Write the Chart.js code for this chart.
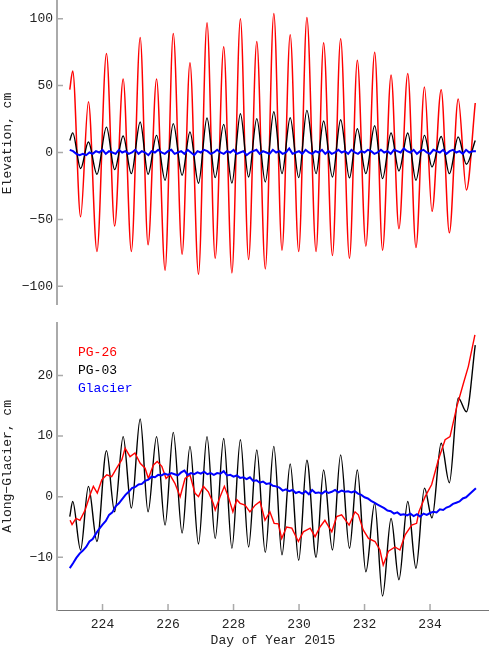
<!DOCTYPE html>
<html lang="en">
<head>
<meta charset="UTF-8">
<title>Elevation and Along-Glacier displacement, 2015</title>
<script src="https://cdn.jsdelivr.net/npm/chart.js"></script>
<style>
  body { margin: 0; background: #fff; }
  canvas { position: absolute; left: 0; }
  #elevChart { top: 0; }
  #alongChart { top: 310px; }
</style>
</head>
<body>
<canvas id="elevChart" width="489" height="305"></canvas>
<canvas id="alongChart" width="489" height="338"></canvas>
<script>
// days of the tidal highs/lows (shared by the oscillating records)
const tideDays = [223.00, 223.09, 223.33, 223.57, 223.83, 224.12, 224.37, 224.63, 224.88, 225.15,
                  225.39, 225.65, 225.91, 226.16, 226.43, 226.67, 226.93, 227.19, 227.44, 227.70,
                  227.95, 228.21, 228.46, 228.71, 228.97, 229.23, 229.48, 229.73, 229.99, 230.24,
                  230.52, 230.75, 231.02, 231.27, 231.54, 231.78, 232.04, 232.31, 232.55, 232.81,
                  233.05, 233.32, 233.57, 233.83, 234.06, 234.34, 234.59, 234.86, 235.11, 235.38];

// elevation, cm
const elevPG26 = [47, 61, -48, 38, -74, 74, -55, 55, -74, 86,
                  -69, 55, -88, 89, -76, 67, -91, 97, -79, 79,
                  -90, 100, -80, 83, -87, 104, -73, 88, -74, 101,
                  -74, 82, -77, 85, -79, 69, -70, 75, -73, 58,
                  -57, 59, -71, 49, -44, 47, -60, 40, -28, 37];
const elevPG03 = [9, 14.7, -12, 7.8, -16.3, 19, -12.8, 12.3, -15.8, 22.8,
                  -16.3, 12.8, -20.7, 21.6, -17, 15.3, -23, 25.8, -18.8, 21,
                  -22.8, 29, -18.3, 25.3, -22, 30.5, -15.8, 26, -18.8, 31.5,
                  -15.8, 23.5, -18.3, 24.5, -19, 17.8, -15.8, 20, -19.5, 14.6,
                  -13.8, 14.6, -20.7, 12.8, -10.8, 12, -15.8, 11.6, -8.8, 9];

// along-glacier, cm
const alongPG03 = [-3.3, -0.8, -8.8, 1.7, -7.4, 7.6, -2.5, 9.9, -1.9, 12.8,
                   -2.5, 9.9, -4.7, 10.6, -6, 8.3, -7.8, 9.9, -6.9, 9.6,
                   -8.5, 9.4, -8.3, 7.7, -9.2, 8.3, -9.6, 5.4, -10.5, 6,
                   -10, 4.4, -8.8, 6.9, -8.5, 4.4, -12.4, -1.1, -16.4, -3.6,
                   -13.7, -0.8, -11.8, 1.4, -3.5, 8.8, 2.3, 16.3, 14, 25];

const alongPG26Days = [223.01, 223.07, 223.19, 223.31, 223.47, 223.62, 223.72, 223.84, 223.98, 224.13,
                       224.28, 224.43, 224.59, 224.69, 224.84, 224.99, 225.15, 225.30, 225.40, 225.55,
                       225.67, 225.81, 225.94, 226.06, 226.21, 226.37, 226.52, 226.67, 226.82, 226.93,
                       227.08, 227.23, 227.38, 227.44, 227.59, 227.72, 227.84, 227.98, 228.10, 228.20,
                       228.35, 228.50, 228.66, 228.81, 228.96, 229.11, 229.24, 229.37, 229.47, 229.62,
                       229.78, 229.98, 230.13, 230.34, 230.49, 230.64, 230.79, 231.00, 231.15, 231.30,
                       231.53, 231.71, 231.81, 231.96, 232.12, 232.32, 232.47, 232.57, 232.73, 232.93,
                       233.08, 233.24, 233.44, 233.59, 233.66, 233.85, 234.05, 234.25, 234.46, 234.61,
                       234.82, 235.02, 235.17, 235.37];
const alongPG26 = [-3.9, -4.6, -3.6, -3.9, -2.2, 0.3, 1.7, 0.6, 2.8, 3.6,
                   3.3, 4.7, 6.1, 8.0, 6.6, 7.2, 5.5, 4.7, 3.0, 5.2,
                   5.8, 5.0, 3.0, 3.6, 2.2, 0, 3.0, 3.6, 0.6, 0,
                   1.7, 0.8, -1.1, -2.2, 0, 1.7, 0, -2.5, -0.5, -1.1,
                   -1.4, -2.5, -1.4, -0.8, -3.9, -2.5, -4.4, -4.5, -6.9, -5.0,
                   -5.2, -7.4, -5.8, -5.2, -6.6, -5.0, -3.9, -5.8, -3.3, -3.0,
                   -4.7, -2.5, -3.0, -5.5, -6.9, -7.4, -8.8, -11.3, -9.0, -8.3,
                   -8.8, -6.3, -4.7, -4.4, -2.5, 0, 2.0, 6.0, 9.4, 9.9,
                   14.9, 18.7, 21.5, 26.7];

// glacier GPS, sampled every 0.1 day from day 223.0
const glacierStart = 223.0;
const glacierStep = 0.1;
const elevGlacier = [2, 1, -1, -2, -1, -2, 0, -1, 1, 0,
                     2, -1, 1, 0, -1, 2, 0, 1, -1, 0,
                     2, -1, 1, 0, -2, 1, 0, 2, 0, -1,
                     1, 2, -1, 0, 1, -1, 2, 0, -2, 1,
                     0, 2, 1, -1, 0, 2, 0, -1, 1, 0,
                     2, -1, 0, 1, -2, 0, 1, 2, -1, 1,
                     0, -1, 2, 0, 1, -1, 0, 3, -1, 0,
                     1, -1, 2, 0, -1, 1, 0, 2, -1, 1,
                     -1, 0, 2, 0, 1, -1, 2, 0, -1, 1,
                     0, 2, 1, -1, 0, 2, 0, 1, -1, 2,
                     1, 0, 3, 1, 0, 2, -1, 1, 2, 0,
                     -1, 2, 1, 0, 2, -1, 1, 2, 0, 1,
                     -1, 2, 0, 1, 1];
const alongGlacier = [-11.8, -11.0, -10.1, -9.4, -8.9, -8.3, -7.4, -7.0, -6.1, -5.3,
                      -4.6, -4.0, -3.0, -2.6, -1.6, -1.1, -0.4, 0.3, 0.8, 1.4,
                      1.6, 2.0, 2.1, 2.6, 2.8, 3.3, 3.2, 3.6, 3.5, 3.8,
                      3.6, 3.9, 3.7, 3.5, 4.0, 4.3, 3.6, 3.9, 3.7, 4.0,
                      3.8, 4.1, 3.7, 3.9, 3.6, 3.9, 3.8, 4.2, 3.5, 3.6,
                      3.3, 3.5, 3.1, 3.2, 2.9, 3.2, 2.6, 2.7, 2.3, 2.5,
                      2.1, 2.2, 1.8, 1.7, 1.5, 1.0, 1.2, 0.9, 1.1, 0.6,
                      0.8, 0.5, 0.9, 0.4, 1.1, 0.6, 0.7, 0.5, 0.9, 0.6,
                      0.8, 1.1, 0.7, 1.0, 0.8, 0.9, 0.7, 0.9, 0.5, 0.3,
                      -0.1, -0.3, -0.7, -1.0, -1.3, -1.6, -1.9, -2.3, -2.4, -2.8,
                      -2.6, -3.0, -2.9, -3.1, -2.8, -3.2, -2.9, -3.3, -2.8, -3.0,
                      -2.7, -2.5, -2.6, -2.1, -2.2, -1.8, -1.6, -1.2, -1.0, -0.8,
                      -0.3, -0.1, 0.4, 0.9, 1.4];

const elevTicks = [-100, -50, 0, 50, 100];
const alongTicks = [-10, 0, 10, 20];
const dayTicks = [224, 226, 228, 230, 232, 234];

Chart.defaults.font.family = "'Liberation Mono', 'DejaVu Sans Mono', monospace";
Chart.defaults.font.size = 13;
Chart.defaults.color = '#222';

function pairs(xs, ys) {
    return xs.map((x, i) => ({ x: x, y: ys[i] }));
}
function sampled(ys) {
    return ys.map((y, i) => ({ x: +(glacierStart + i * glacierStep).toFixed(2), y: y }));
}
function minusLabel(v) {
    return v < 0 ? '\u2212' + Math.abs(v) : String(v);
}

// short gray tick marks pointing into the plot
const innerTicks = {
    id: 'innerTicks',
    beforeDatasetsDraw(chart, args, opts) {
        const ctx = chart.ctx, area = chart.chartArea;
        ctx.save();
        ctx.strokeStyle = '#aaa';
        ctx.lineWidth = 1.5;
        ctx.beginPath();
        const ys = chart.scales.y;
        ys.ticks.forEach(t => {
            const py = ys.getPixelForValue(t.value);
            ctx.moveTo(area.left, py);
            ctx.lineTo(area.left + 6, py);
        });
        if (opts.xTicks) {
            const xs = chart.scales.x;
            opts.xTicks.forEach(v => {
                const px = xs.getPixelForValue(v);
                ctx.moveTo(px, area.bottom);
                ctx.lineTo(px, area.bottom - 6);
            });
        }
        ctx.stroke();
        ctx.restore();
    }
};

// rotated y title, drawn by hand when it sits off the axis centre
const sideTitle = {
    id: 'sideTitle',
    afterDraw(chart, args, opts) {
        if (!opts.text) return;
        const ctx = chart.ctx, area = chart.chartArea;
        ctx.save();
        ctx.font = "13px 'Liberation Mono'";
        ctx.fillStyle = '#222';
        ctx.textAlign = 'center';
        ctx.textBaseline = 'middle';
        ctx.translate(8, (area.top + area.bottom) / 2 + opts.shift);
        ctx.rotate(-Math.PI / 2);
        ctx.fillText(opts.text, 0, 0);
        ctx.restore();
    }
};

// coloured series names in the upper left of the lower panel
const textLegend = {
    id: 'textLegend',
    afterDraw(chart, args, opts) {
        if (!opts.show) return;
        const ctx = chart.ctx, area = chart.chartArea;
        ctx.save();
        ctx.font = "13px 'Liberation Mono'";
        ctx.textBaseline = 'middle';
        chart.data.datasets.forEach((ds, i) => {
            ctx.fillStyle = ds.borderColor;
            ctx.fillText(ds.label, area.left + 21, area.top + 30 + i * 18);
        });
        ctx.restore();
    }
};

function yAxis(min, max, ticks, title) {
    return {
        type: 'linear',
        min: min,
        max: max,
        afterBuildTicks: s => { s.ticks = ticks.map(v => ({ value: v })); },
        afterFit: s => { s.width = 57; s.paddingTop = 0; s.paddingBottom = 0; },
        border: { color: '#aaa', width: 2 },
        grid: { display: true, drawOnChartArea: false, drawTicks: false },
        ticks: { padding: 4, callback: v => minusLabel(v), color: '#222' },
        title: { display: !!title, text: title, padding: 0, color: '#222' }
    };
}

function line(label, color, data, width, order, smooth) {
    return {
        label: label,
        data: data,
        borderColor: color,
        borderWidth: width,
        pointRadius: 0,
        fill: false,
        order: order,
        cubicInterpolationMode: smooth ? 'monotone' : 'default',
        tension: 0
    };
}

new Chart(document.getElementById('elevChart'), {
    type: 'line',
    data: {
        datasets: [
            line('PG-26', '#ff0000', pairs(tideDays, elevPG26), 1.5, 3, true),
            line('PG-03', '#000000', pairs(tideDays, elevPG03), 1.4, 2, true),
            line('Glacier', '#0000ff', sampled(elevGlacier), 2, 1, false)
        ]
    },
    options: {
        responsive: false,
        animation: false,
        layout: { padding: 0 },
        plugins: {
            legend: { display: false },
            tooltip: { enabled: false },
            innerTicks: {},
            sideTitle: { text: 'Elevation, cm', shift: -9 }
        },
        scales: {
            x: { type: 'linear', min: 222.61, max: 235.8, display: false },
            y: yAxis(-114, 114, elevTicks, '')
        }
    },
    plugins: [innerTicks, sideTitle]
});

new Chart(document.getElementById('alongChart'), {
    type: 'line',
    data: {
        datasets: [
            line('PG-26', '#ff0000', pairs(alongPG26Days, alongPG26), 1.4, 2, false),
            line('PG-03', '#000000', pairs(tideDays, alongPG03), 1.4, 3, true),
            line('Glacier', '#0000ff', sampled(alongGlacier), 2, 1, false)
        ]
    },
    options: {
        responsive: false,
        animation: false,
        layout: { padding: { top: 12.7, left: 0, right: 0, bottom: 0 } },
        plugins: {
            legend: { display: false },
            tooltip: { enabled: false },
            innerTicks: { xTicks: dayTicks },
            textLegend: { show: true }
        },
        scales: {
            x: {
                type: 'linear',
                min: 222.61,
                max: 235.8,
                afterBuildTicks: s => { s.ticks = dayTicks.map(v => ({ value: v })); },
                afterFit: s => { s.height = 38; },
                border: { color: '#777', width: 1 },
                grid: { display: true, drawOnChartArea: false, drawTicks: false },
                ticks: { padding: 7, maxRotation: 0, color: '#222' },
                title: { display: true, text: 'Day of Year 2015', padding: 0, color: '#222' }
            },
            y: yAxis(-18.7, 28.7, alongTicks, 'Along\u2212Glacier, cm')
        }
    },
    plugins: [innerTicks, textLegend]
});
</script>
</body>
</html>
